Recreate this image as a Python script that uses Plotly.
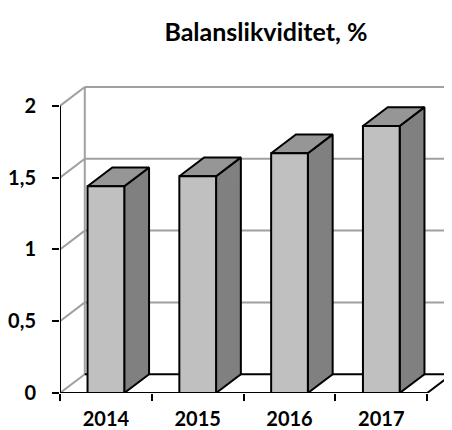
import plotly.graph_objects as go

title = "Balanslikviditet, %"
categories = ["2014", "2015", "2016", "2017"]
values = [1.44, 1.51, 1.67, 1.86]
y_ticks = [0, 0.5, 1, 1.5, 2]
y_tick_labels = ["0", "0,5", "1", "1,5", "2"]

# pseudo-3D geometry (data units)
DX = 0.27      # depth offset along x
DY = 0.131     # depth offset along y
BW = 0.4       # bar width
X0, X1 = -0.5, len(categories) - 0.5
YMAX = y_ticks[-1]

FRONT = "#c0c0c0"
SIDE = "#808080"
TOP = "#969696"
GRID = "#a0a0a0"

fig = go.Figure()
shapes = []

# walls / gridlines (behind)
for v in y_ticks[1:]:
    shapes.append(dict(type="line", xref="x", yref="y", x0=X0 + DX, x1=X1 + DX + 1,
                       y0=v + DY, y1=v + DY, line=dict(color=GRID, width=2), layer="below"))
for v in y_ticks:
    shapes.append(dict(type="line", xref="x", yref="y", x0=X0, x1=X0 + DX,
                       y0=v, y1=v + DY, line=dict(color=GRID, width=2), layer="below"))
shapes.append(dict(type="line", xref="x", yref="y", x0=X0 + DX, x1=X0 + DX,
                   y0=DY, y1=YMAX + DY, line=dict(color=GRID, width=2), layer="below"))

# floor outline (back edge, right edge, front edge)
fig.add_trace(go.Scatter(x=[X0 + DX, X1 + DX, X1, X0], y=[DY, DY, 0, 0], mode="lines",
                         line=dict(color="black", width=2), hoverinfo="skip", showlegend=False))
# value axis line
fig.add_trace(go.Scatter(x=[X0, X0], y=[0, YMAX], mode="lines",
                         line=dict(color="black", width=2), hoverinfo="skip", showlegend=False))

for i, (c, v) in enumerate(zip(categories, values)):
    l, r = i - BW / 2, i + BW / 2
    # side face
    fig.add_trace(go.Scatter(x=[r, r + DX, r + DX, r, r], y=[0, DY, v + DY, v, 0],
                             fill="toself", fillcolor=SIDE, mode="lines",
                             line=dict(color="black", width=2), hoverinfo="skip", showlegend=False))
    # top face
    fig.add_trace(go.Scatter(x=[l, r, r + DX, l + DX, l], y=[v, v, v + DY, v + DY, v],
                             fill="toself", fillcolor=TOP, mode="lines",
                             line=dict(color="black", width=2), hoverinfo="skip", showlegend=False))
    # front face
    fig.add_trace(go.Scatter(x=[l, r, r, l, l], y=[0, 0, v, v, 0],
                             fill="toself", fillcolor=FRONT, mode="lines",
                             line=dict(color="black", width=2), name=c, showlegend=False))

tick_font = dict(family="Lato", size=20, color="black", weight="bold")

fig.update_layout(
    width=444, height=422,
    margin=dict(l=50, r=0, t=72, b=34),
    paper_bgcolor="white", plot_bgcolor="white",
    shapes=shapes,
    title=dict(text="<b>" + title + "</b>", x=0.581, xanchor="center", y=0.943, yanchor="middle",
               font=dict(family="Lato", size=25, color="black")),
    xaxis=dict(range=[X0, X1 + DX], tickvals=list(range(len(categories))), ticktext=categories,
               showgrid=False, zeroline=False, showline=False, ticks="", ticklabelstandoff=12,
               tickfont=tick_font,
               minor=dict(tickvals=[k - 0.5 for k in range(len(categories) + 1)], ticks="outside",
                          ticklen=7, tickwidth=2, tickcolor="black", showgrid=False)),
    yaxis=dict(range=[0, 2.18], tickvals=y_ticks, ticktext=y_tick_labels,
               showgrid=False, zeroline=False, showline=False, ticks="outside", ticklen=7,
               tickwidth=2, tickcolor="black", ticklabelstandoff=12,
               tickfont=tick_font),
)

fig.write_html("out.html")
